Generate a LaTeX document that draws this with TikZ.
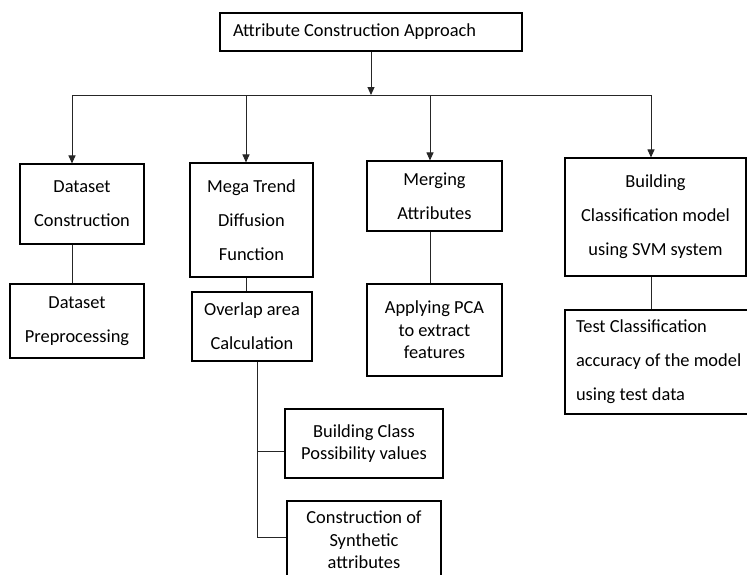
\documentclass[tikz,border=0pt]{standalone}
\usepackage{fontspec}
\setmainfont{Carlito}
\usetikzlibrary{arrows.meta}

\begin{document}
\begin{tikzpicture}[x=1pt,y=-1pt,
    box/.style={draw,line width=1.1pt,align=center,inner sep=2pt},
    tight/.style={font=\fontsize{18.4}{22.5}\selectfont},
    wide/.style={font=\fontsize{18.4}{34}\selectfont},
    link/.style={draw=black!85,line width=1pt},
    arrow/.style={link,-{Triangle[length=8pt,width=7pt]}}]
    \useasboundingbox (0,0) rectangle (747,574);
    \node[box,wide,text width=276pt,inner xsep=13pt,align=flush left,minimum height=38pt] (top) at (371,32) {Attribute Construction Approach};
    \node[box,wide,minimum width=124pt,minimum height=80pt] (ds) at (82,204) {Dataset\\Construction};
    \node[box,wide,minimum width=134pt,minimum height=74pt] (dp) at (77,321) {Dataset\\Preprocessing};
    \node[box,wide,minimum width=123pt,minimum height=114pt] (mt) at (251.5,220) {Mega Trend\\Diffusion\\Function};
    \node[box,wide,minimum width=120pt,minimum height=69pt] (oa) at (252,326.5) {Overlap area\\Calculation};
    \node[box,wide,minimum width=135pt,minimum height=70pt] (ma) at (434.5,196) {Merging\\Attributes};
    \node[box,tight,minimum width=135pt,minimum height=92pt] (pca) at (434.5,330) {Applying PCA\\to extract\\features};
    \node[box,wide,minimum width=181pt,minimum height=118pt] (bc) at (655.5,217) {Building\\Classification model\\using SVM system};
    \node[box,wide,text width=178pt,inner xsep=11pt,align=flush left,minimum height=104pt] (tc) at (665,362) {Test Classification\\accuracy of the model\\using test data};
    \node[box,tight,minimum width=158pt,minimum height=69pt] (cp) at (364,443.5) {Building Class\\Possibility values};
    \node[box,tight,minimum width=154pt,minimum height=78pt] (cs) at (364,540) {Construction of\\Synthetic\\attributes};

    \coordinate (b1) at (72,95);
    \coordinate (b2) at (246,95);
    \coordinate (b3) at (430,95);
    \coordinate (b4) at (651,95);
    \coordinate (j1) at (257,451);
    \coordinate (j2) at (257,537);

    \draw[arrow] (top.south) -- (top.south |- b1);
    \draw[link] (b1) -- (b4);
    \draw[arrow] (b1) -- (b1 |- ds.north);
    \draw[arrow] (b2) -- (b2 |- mt.north);
    \draw[arrow] (b3) -- (b3 |- ma.north);
    \draw[arrow] (b4) -- (b4 |- bc.north);
    \draw[link] (b1 |- ds.south) -- (b1 |- dp.north);
    \draw[link] (b2 |- mt.south) -- (b2 |- oa.north);
    \draw[link] (b3 |- ma.south) -- (b3 |- pca.north);
    \draw[link] (b4 |- bc.south) -- (b4 |- tc.north);
    \draw[link] (j1 |- oa.south) -- (j2) -- (j2 -| cs.west);
    \draw[link] (j1) -- (j1 -| cp.west);
\end{tikzpicture}
\end{document}
